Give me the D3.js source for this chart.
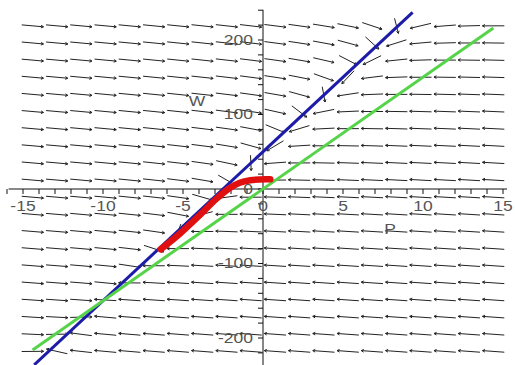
<!DOCTYPE html>
<html><head><meta charset="utf-8">
<script src="https://cdn.jsdelivr.net/npm/d3@7"></script>
<style>body{margin:0;background:#fff}svg{display:block}</style>
</head><body><svg id="c" width="515" height="365"></svg>
<script>
// ---- data ----
const pTickLabels = [-15, -10, -5, 0, 5, 10, 15];
const wTickLabels = [200, 100, 0, -100, -200];
const pMinorTicks = [-16,-15,-14,-13,-12,-11,-10,-9,-8,-7,-6,-5,-4,-3,-2,-1,0,1,2,3,4,5,6,7,8,9,10,11,12,13,14,15];
const wMinorTicks = [240,220,200,180,160,140,120,100,80,60,40,20,0,-20,-40,-60,-80,-100,-120,-140,-160,-180,-200,-220];
// blue line  W = 20P + 50 (end points)
const blueLine = [[-14.3, -236], [9.35, 237]];
// green line W = 15P (end points)
const greenLine = [[-14.4, -216], [14.4, 216]];
// red solution curve
const redCurve = [[-6.4, -81], [-5.2, -60], [-3.95, -35], [-2.9, -13], [-2.1, 1], [-1.45, 8.5], [-0.8, 11.8], [0.3, 13], [0.45, 13]];
// direction-field grid
const fieldP = [-14.4, -12.88, -11.37, -9.85, -8.34, -6.82, -5.31, -3.79, -2.27, -0.76, 0.76, 2.27, 3.79, 5.31, 6.82, 8.34, 9.85, 11.37, 12.88, 14.4];
const fieldW = [219, 196, 173, 150, 127, 104, 81, 58, 35, 12, -11, -34, -57, -80, -103, -126, -149, -172, -195, -218];
// system: dP/dt = W - (20P + 50), dW/dt = 2(15P - W)
const blueSlope = 20, blueIntercept = 50, greenSlope = 15, wRate = 2;

// ---- drawing ----
const svg = d3.select('#c');
const x = d3.scaleLinear().domain([-15, 15]).range([23, 503]);
const y = d3.scaleLinear().domain([-200, 200]).range([338, 40]);

// direction field
const cellW = Math.abs(x(fieldP[1]) - x(fieldP[0]));
const cellH = Math.abs(y(fieldW[1]) - y(fieldW[0]));
const fg = svg.append('g').attr('stroke', '#222').attr('stroke-width', 1).attr('fill', 'none');
const pxP = x(1) - x(0), pxW = y(0) - y(1);
fieldW.forEach(W => fieldP.forEach(P => {
  const dP = W - (blueSlope * P + blueIntercept);
  const dW = wRate * (greenSlope * P - W);
  let sx = dP * pxP, sy = -dW * pxW;
  let gu = sx / cellW, gv = sy / cellH;
  const n = Math.hypot(gu, gv) || 1;
  const vx = gu / n * cellW * 0.9, vy = gv / n * cellH * 0.9;
  const cx = x(P), cy = y(W);
  const x0 = cx - vx / 2, y0 = cy - vy / 2, x1 = cx + vx / 2, y1 = cy + vy / 2;
  const ang = Math.atan2(vy, vx), h = 2.8, a = 0.5;
  const p = d3.path();
  p.moveTo(x0, y0); p.lineTo(x1, y1);
  p.moveTo(x1 - h * Math.cos(ang - a), y1 - h * Math.sin(ang - a));
  p.lineTo(x1, y1);
  p.lineTo(x1 - h * Math.cos(ang + a), y1 - h * Math.sin(ang + a));
  fg.append('path').attr('d', p.toString());
}));

// axes
const ax = svg.append('g').attr('stroke', '#111').attr('stroke-width', 1).attr('fill', 'none');
ax.append('line').attr('x1', x(-15.9)).attr('x2', x(15.25)).attr('y1', y(0)).attr('y2', y(0));
ax.selectAll('.xt').data(pMinorTicks).join('line')
  .attr('x1', d => x(d)).attr('x2', d => x(d)).attr('y1', y(0)).attr('y2', y(0) + 5);
ax.append('line').attr('x1', x(0)).attr('x2', x(0)).attr('y1', y(240.5)).attr('y2', 365);
ax.selectAll('.yt').data(wMinorTicks).join('line')
  .attr('x1', x(0) - 5).attr('x2', x(0)).attr('y1', d => y(d)).attr('y2', d => y(d));

// tick labels
const fontFam = '"Liberation Sans", Arial, sans-serif';
function label(t, cx, cy, anchor) {
  svg.append('text').attr('transform', `translate(${cx},${cy}) scale(1.25,1)`)
    .attr('text-anchor', anchor).attr('dominant-baseline', 'central')
    .attr('font-family', fontFam).attr('font-size', 14).attr('fill', '#555')
    .text(t);
}
pTickLabels.forEach(v => label(String(v), x(v), y(0) + 17, 'middle'));
wTickLabels.forEach(v => label(String(v), x(0) - 10, y(v), 'end'));
label('W', 197, 101, 'middle');
label('P', 390, 229, 'middle');

// lines
const line = d3.line().x(d => x(d[0])).y(d => y(d[1]));
svg.append('path').attr('d', line(blueLine)).attr('stroke', '#1c1ca8').attr('stroke-width', 3).attr('fill', 'none');
svg.append('path').attr('d', line(greenLine)).attr('stroke', '#55d44a').attr('stroke-width', 3).attr('fill', 'none');
svg.append('path').attr('d', line.curve(d3.curveCatmullRom)(redCurve)).attr('stroke', '#e01010').attr('stroke-width', 6.5).attr('fill', 'none').attr('stroke-linecap', 'round');
</script></body></html>
